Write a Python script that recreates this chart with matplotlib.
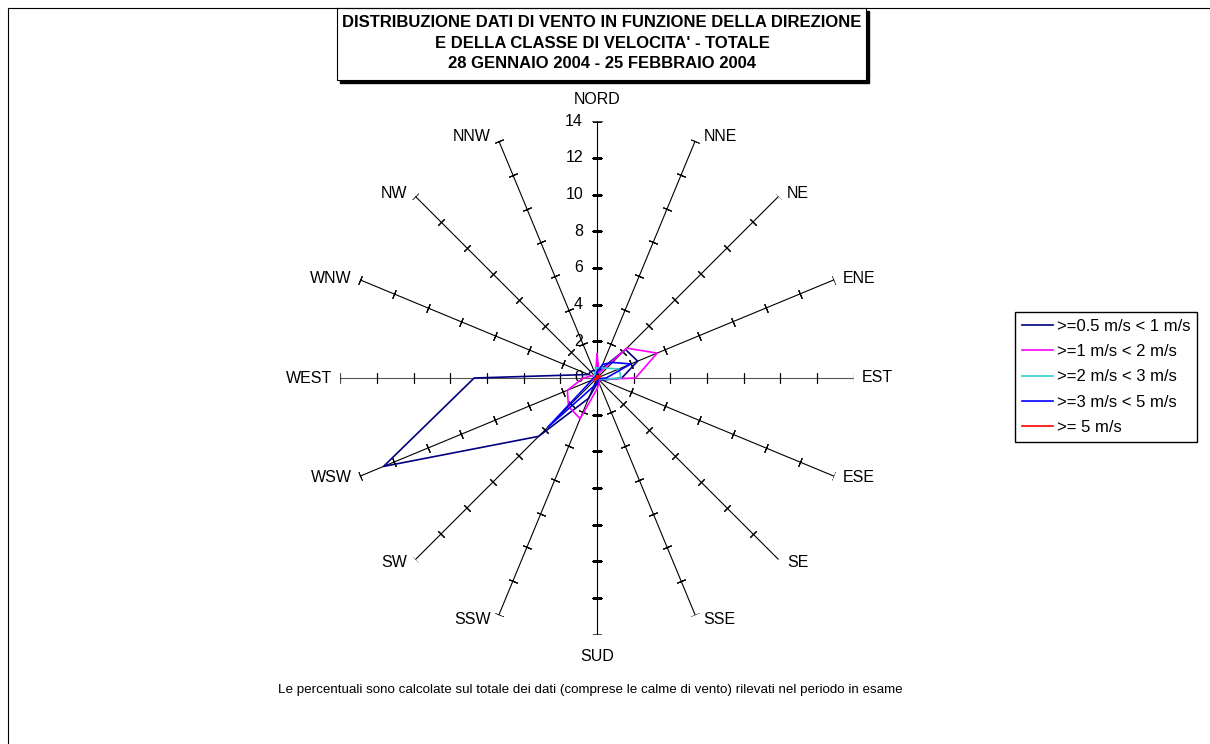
import numpy as np
import matplotlib
matplotlib.use('Agg')
import matplotlib.pyplot as plt
from matplotlib.patches import Rectangle
from matplotlib.lines import Line2D

plt.rcParams['font.family'] = ['Liberation Sans', 'DejaVu Sans']

directions = ['NORD', 'NNE', 'NE', 'ENE', 'EST', 'ESE', 'SE', 'SSE',
              'SUD', 'SSW', 'SW', 'WSW', 'WEST', 'WNW', 'NW', 'NNW']
r_ticks = [0, 2, 4, 6, 8, 10, 12, 14]

classes = ['>=0.5 m/s < 1 m/s', '>=1 m/s < 2 m/s', '>=2 m/s < 3 m/s',
           '>=3 m/s < 5 m/s', '>= 5 m/s']
v_05_1 = [0.4, 0.5, 2.2, 2.4, 1.35, 0.3, 0.2, 0.2, 0.3, 1.2, 4.5, 12.6, 6.7, 0.5, 0.5, 0.45]
v_1_2 = [1.3, 0.3, 2.3, 3.55, 2.1, 0.2, 0.2, 0.3, 0.6, 2.4, 2.2, 1.75, 0.75, 0.3, 0.2, 0.2]
v_2_3 = [0.55, 0.6, 0.75, 1.3, 1.3, 0.2, 0.1, 0.1, 0.1, 0.1, 0.15, 0.1, 0.2, 0.2, 0.2, 0.3]
v_3_5 = [0.3, 0.8, 1.2, 2.0, 0.5, 0.1, 0.1, 0.1, 0.2, 0.5, 3.8, 0.3, 0.2, 0.1, 0.1, 0.1]
v_5 = [0.1, 0.05, 0.2, 0.2, 0.1, 0.05, 0.05, 0.05, 0.05, 0.05, 0.2, 0.2, 0.05, 0.05, 0.05, 0.05]
colors = ['#000080', '#FF00FF', '#33CCCC', '#0000FF', '#FF0000']

W, H = 1210, 744
fig = plt.figure(figsize=(W / 100, H / 100), dpi=100)

# polar axes, centre at (597, 378) px, radius 256.7 px for 14
cx, cy, rad = 597, 378, 256.7
ax = fig.add_axes([(cx - rad) / W, (H - cy - rad) / H, 2 * rad / W, 2 * rad / H],
                  projection='polar')
ax.set_theta_zero_location('N')
ax.set_theta_direction(-1)
ax.set_ylim(0, 14)
ax.grid(False)
ax.set_xticks([])
ax.set_yticks([])
ax.spines['polar'].set_visible(False)
ax.patch.set_alpha(0)

theta = np.deg2rad(np.arange(16) * 22.5)

# spokes with cross ticks
for i, t in enumerate(theta):
    col = '#555555' if i in (4, 12) else 'black'
    ax.plot([t, t], [0, 14], color=col, lw=0.8, zorder=1)
    ang = 90 - i * 22.5
    ax.plot([t] * 7, r_ticks[1:], ls='none', marker=(2, 2, ang),
            ms=6.5, mew=0.8, color='black', zorder=1)
    s, c = np.sin(t), np.cos(t)
    if abs(s) < 0.1:
        ha, va = 'center', ('bottom' if c > 0 else 'top')
        off = (0, 10 if c > 0 else -10)
    else:
        ha, va = ('left' if s > 0 else 'right'), 'center'
        off = (6 * np.sign(s), -3 * -c)
    ax.annotate(directions[i], xy=(t, 14), xytext=off, textcoords='offset points',
                ha=ha, va=va, fontsize=11.5, annotation_clip=False)

# value labels on the north axis
for r in r_ticks:
    ax.annotate(str(r), xy=(0, r), xytext=(-10, 0), textcoords='offset points',
                ha='right', va='center', fontsize=11.5)

series = [v_05_1, v_1_2, v_2_3, v_3_5, v_5]
for vals, col, lab in zip(series, colors, classes):
    ax.plot(np.append(theta, theta[0]), vals + vals[:1], color=col, lw=1.2,
            label=lab, zorder=3)

fig.legend(loc='upper left', bbox_to_anchor=(1015 / W, 1 - 312 / H), fontsize=12,
           frameon=True, fancybox=False, edgecolor='black', framealpha=1,
           labelspacing=0.62, handlelength=1.9, handletextpad=0.2,
           borderpad=0.4, borderaxespad=0)

# outer frame (top and left edges visible)
fig.add_artist(Line2D([8 / W, 1], [1 - 8 / H, 1 - 8 / H], color='black', lw=0.8))
fig.add_artist(Line2D([8 / W, 8 / W], [0, 1 - 8 / H], color='black', lw=0.8))

# title box with shadow
bx0, bx1, by0, by1 = 337, 866, 8, 80
fig.add_artist(Rectangle(((bx0 + 3) / W, 1 - (by1 + 3) / H), (bx1 - bx0) / W,
                         (by1 - by0) / H, facecolor='black', edgecolor='black'))
fig.add_artist(Rectangle((bx0 / W, 1 - by1 / H), (bx1 - bx0) / W, (by1 - by0) / H,
                         facecolor='white', edgecolor='black', lw=0.8))
fig.text(602 / W, 1 - 43 / H,
         "DISTRIBUZIONE DATI DI VENTO IN FUNZIONE DELLA DIREZIONE\n"
         "E DELLA CLASSE DI VELOCITA' - TOTALE\n"
         "28 GENNAIO 2004 - 25 FEBBRAIO 2004",
         ha='center', va='center', fontsize=12, fontweight='bold', linespacing=1.48)

fig.text(590 / W, 1 - 690 / H,
         "Le percentuali sono calcolate sul totale dei dati (comprese le calme di vento) "
         "rilevati nel periodo in esame", ha='center', va='center', fontsize=9.6)

fig.savefig('out.png', dpi=100)
